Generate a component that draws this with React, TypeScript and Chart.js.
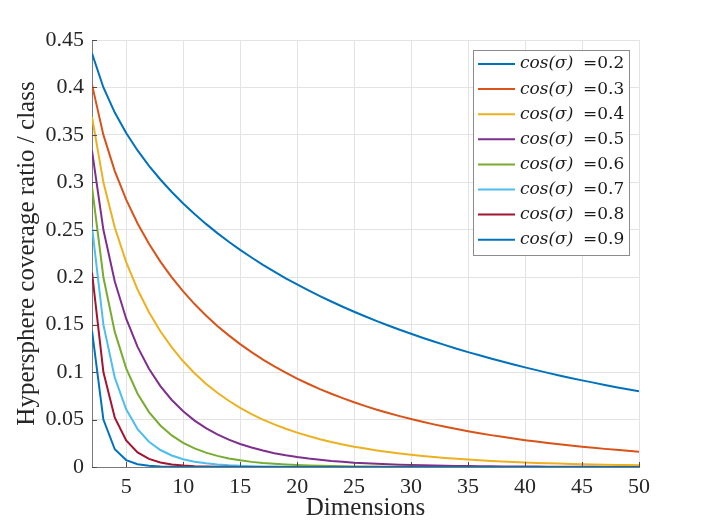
import { useEffect, useRef } from 'react';
import { Chart, registerables, Plugin } from 'chart.js';

Chart.register(...registerables);

// dimensions on the x axis
const dims = [
  2, 3, 4, 5, 6, 7, 8, 9, 10, 11, 12, 13, 14, 15, 16, 17, 18, 19, 20, 21, 22, 23, 24, 25, 26,
  27, 28, 29, 30, 31, 32, 33, 34, 35, 36, 37, 38, 39, 40, 41, 42, 43, 44, 45, 46, 47, 48, 49, 50,
];
const xTicks = [5, 10, 15, 20, 25, 30, 35, 40, 45, 50];
const yTicks = [0, 0.05, 0.1, 0.15, 0.2, 0.25, 0.3, 0.35, 0.4, 0.45];

const cosLabels = ['0.2', '0.3', '0.4', '0.5', '0.6', '0.7', '0.8', '0.9'];
const lineColors = ['#0072BD', '#D95319', '#EDB120', '#7E2F8E', '#77AC30', '#4DBEEE', '#A2142F', '#0072BD'];

// coverage ratio per class, one list per cos(sigma)
const cos02 = [
  0.4359, 0.4, 0.3735, 0.352, 0.3336, 0.3174, 0.303, 0.2898, 0.2777, 0.2666, 0.2562, 0.2465, 0.2374,
  0.2288, 0.2208, 0.2131, 0.2058, 0.1989, 0.1924, 0.1861, 0.1801, 0.1744, 0.1689, 0.1636, 0.1586,
  0.1538, 0.1491, 0.1447, 0.1404, 0.1362, 0.1322, 0.1284, 0.1247, 0.1211, 0.1177, 0.1143, 0.1111,
  0.108, 0.105, 0.1021, 0.0992, 0.0965, 0.0939, 0.0913, 0.0889, 0.0865, 0.0841, 0.0819, 0.0797,
];
const cos03 = [
  0.403, 0.35, 0.3119, 0.2818, 0.2567, 0.2352, 0.2164, 0.1998, 0.185, 0.1717, 0.1597, 0.1487, 0.1387,
  0.1295, 0.121, 0.1132, 0.106, 0.0994, 0.0932, 0.0875, 0.0821, 0.0772, 0.0726, 0.0682, 0.0642,
  0.0604, 0.0569, 0.0536, 0.0505, 0.0476, 0.0449, 0.0424, 0.04, 0.0377, 0.0356, 0.0336, 0.0318,
  0.03, 0.0283, 0.0268, 0.0253, 0.0239, 0.0226, 0.0214, 0.0202, 0.0191, 0.0181, 0.0171, 0.0162,
];
const cos04 = [
  0.369, 0.3, 0.2523, 0.216, 0.187, 0.1631, 0.1431, 0.126, 0.1114, 0.0988, 0.0878, 0.0782, 0.0698,
  0.0624, 0.0558, 0.05, 0.0449, 0.0403, 0.0362, 0.0326, 0.0293, 0.0264, 0.0238, 0.0214, 0.0194,
  0.0175, 0.0158, 0.0143, 0.0129, 0.0117, 0.0105, 0.0095, 0.0086, 0.0078, 0.0071, 0.0064, 0.0058,
  0.0053, 0.0048, 0.0043, 0.0039, 0.0036, 0.0032, 0.0029, 0.0027, 0.0024, 0.0022, 0.002, 0.0018,
];
const cos05 = [
  0.3333, 0.25, 0.1955, 0.1563, 0.1266, 0.1035, 0.0852, 0.0706, 0.0587, 0.0489, 0.0409, 0.0343, 0.0288,
  0.0243, 0.0205, 0.0173, 0.0146, 0.0124, 0.0105, 0.0089, 0.0076, 0.0064, 0.0055, 0.0046, 0.004,
  0.0034, 0.0029, 0.0025, 0.0021, 0.0018, 0.0015, 0.0013, 0.0011, 0.001, 0.0008, 0.0007, 0.0006,
  0.0005, 0.0004, 0.0004, 0.0003, 0.0003, 0.0002, 0.0002, 0.0002, 0.0001, 0.0001, 0.0001, 0.0001,
];
const cos06 = [
  0.2952, 0.2, 0.1424, 0.104, 0.0772, 0.0579, 0.0438, 0.0333, 0.0255, 0.0196, 0.0151, 0.0117, 0.009,
  0.007, 0.0054, 0.0042, 0.0033, 0.0026, 0.002, 0.0016, 0.0012, 0.001, 0.0008, 0.0006, 0.0005,
  0.0004, 0.0003, 0.0002, 0.0002, 0.0001, 0.0001, 0, 0, 0, 0, 0, 0,
  0, 0, 0, 0, 0, 0, 0, 0, 0, 0, 0, 0,
];
const cos07 = [
  0.2532, 0.15, 0.0941, 0.0608, 0.04, 0.0266, 0.0179, 0.0121, 0.0082, 0.0056, 0.0039, 0.0027, 0.0018,
  0.0013, 0.0009, 0.0006, 0.0004, 0.0003, 0.0002, 0.0001, 0.0001, 0, 0, 0, 0,
  0, 0, 0, 0, 0, 0, 0, 0, 0, 0, 0, 0,
  0, 0, 0, 0, 0, 0, 0, 0, 0, 0, 0, 0,
];
const cos08 = [
  0.2048, 0.1, 0.052, 0.028, 0.0154, 0.0086, 0.0048, 0.0027, 0.0016, 0.0009, 0.0005, 0.0003, 0.0002,
  0.0001, 0, 0, 0, 0, 0, 0, 0, 0, 0, 0, 0,
  0, 0, 0, 0, 0, 0, 0, 0, 0, 0, 0, 0,
  0, 0, 0, 0, 0, 0, 0, 0, 0, 0, 0, 0,
];
const cos09 = [
  0.1436, 0.05, 0.0187, 0.0073, 0.0029, 0.0012, 0.0005, 0.0002, 0.0001, 0, 0, 0, 0,
  0, 0, 0, 0, 0, 0, 0, 0, 0, 0, 0, 0,
  0, 0, 0, 0, 0, 0, 0, 0, 0, 0, 0, 0,
  0, 0, 0, 0, 0, 0, 0, 0, 0, 0, 0, 0,
];

const allSeries = [cos02, cos03, cos04, cos05, cos06, cos07, cos08, cos09];

const serif = '"Liberation Serif", "Times New Roman", serif';
const textColor = '#262626';

// inward tick marks + boxed legend in the top right corner
const matlabDecor: Plugin<'line'> = {
  id: 'matlabDecor',
  afterDatasetsDraw(chart) {
    const { ctx, chartArea, scales } = chart;
    ctx.save();

    ctx.strokeStyle = '#4d4d4d';
    ctx.lineWidth = 1;
    ctx.beginPath();
    xTicks.forEach((v) => {
      const px = Math.round(scales.x.getPixelForValue(v)) + 0.5;
      ctx.moveTo(px, chartArea.bottom);
      ctx.lineTo(px, chartArea.bottom - 5);
    });
    yTicks.forEach((v) => {
      const py = Math.round(scales.y.getPixelForValue(v)) + 0.5;
      ctx.moveTo(chartArea.left, py);
      ctx.lineTo(chartArea.left + 5, py);
    });
    ctx.stroke();

    const left = 473;
    const top = 50;
    const w = 156;
    const h = 205;
    ctx.fillStyle = '#ffffff';
    ctx.fillRect(left, top, w, h);
    ctx.strokeStyle = '#8c8c8c';
    ctx.strokeRect(left + 0.5, top + 0.5, w, h);

    chart.data.datasets.forEach((ds, i) => {
      const y = top + 14 + i * 25.1;
      ctx.strokeStyle = ds.borderColor as string;
      ctx.lineWidth = 2;
      ctx.beginPath();
      ctx.moveTo(left + 5, y);
      ctx.lineTo(left + 42, y);
      ctx.stroke();

      ctx.fillStyle = '#1a1a1a';
      ctx.textBaseline = 'middle';
      ctx.textAlign = 'left';
      ctx.font = 'italic 17px "DejaVu Serif"';
      ctx.fillText('cos(σ)', left + 47, y);
      ctx.font = '17px "DejaVu Serif"';
      ctx.fillText('=' + cosLabels[i], left + 110, y);
    });

    ctx.restore();
  },
};

const App: React.FC = () => {
  const chartRef = useRef<HTMLCanvasElement>(null);
  const chartInstance = useRef<Chart | null>(null);

  useEffect(() => {
    document.body.style.margin = '0';
    if (!chartRef.current) return;
    const ctx = chartRef.current.getContext('2d');
    if (!ctx) return;

    chartInstance.current = new Chart(ctx, {
      type: 'line',
      data: {
        datasets: allSeries.map((values, i) => ({
          label: 'cos(σ) =' + cosLabels[i],
          data: values.map((v, j) => ({ x: dims[j], y: v })),
          borderColor: lineColors[i],
          backgroundColor: lineColors[i],
          borderWidth: 2,
          pointRadius: 0,
          tension: 0,
          fill: false,
          order: allSeries.length - i,
        })),
      },
      options: {
        animation: false,
        responsive: true,
        maintainAspectRatio: false,
        layout: { padding: { left: 0, right: 67, top: 40, bottom: 0 } },
        plugins: {
          legend: { display: false },
          tooltip: { enabled: false },
        },
        scales: {
          x: {
            type: 'linear',
            min: 2,
            max: 50,
            afterBuildTicks: (axis) => {
              axis.ticks = xTicks.map((v) => ({ value: v }));
            },
            afterFit: (axis) => {
              axis.height = 63;
            },
            ticks: {
              autoSkip: false,
              maxRotation: 0,
              padding: 7,
              color: textColor,
              font: { family: serif, size: 22 },
            },
            grid: { color: '#e3e3e3', drawTicks: false },
            border: { color: '#7a7a7a' },
            title: {
              display: true,
              text: 'Dimensions',
              color: textColor,
              font: { family: serif, size: 25 },
              padding: { top: 0, bottom: 7 },
            },
          },
          y: {
            type: 'linear',
            min: 0,
            max: 0.45,
            afterBuildTicks: (axis) => {
              axis.ticks = yTicks.map((v) => ({ value: v }));
            },
            afterFit: (axis) => {
              axis.width = 92;
            },
            ticks: {
              autoSkip: false,
              padding: 8,
              color: textColor,
              font: { family: serif, size: 22 },
              callback: (v) => String(Number(Number(v).toFixed(2))),
            },
            grid: { color: '#e3e3e3', drawTicks: false },
            border: { color: '#7a7a7a' },
            title: {
              display: true,
              text: 'Hypersphere coverage ratio / class',
              color: textColor,
              font: { family: serif, size: 25 },
              padding: { top: 12, bottom: 0 },
            },
          },
        },
      },
      plugins: [matlabDecor],
    });

    return () => {
      if (chartInstance.current) {
        chartInstance.current.destroy();
        chartInstance.current = null;
      }
    };
  }, []);

  return (
    <div style={{ position: 'relative', width: 706, height: 530 }}>
      <canvas ref={chartRef} />
    </div>
  );
};

export default App;
